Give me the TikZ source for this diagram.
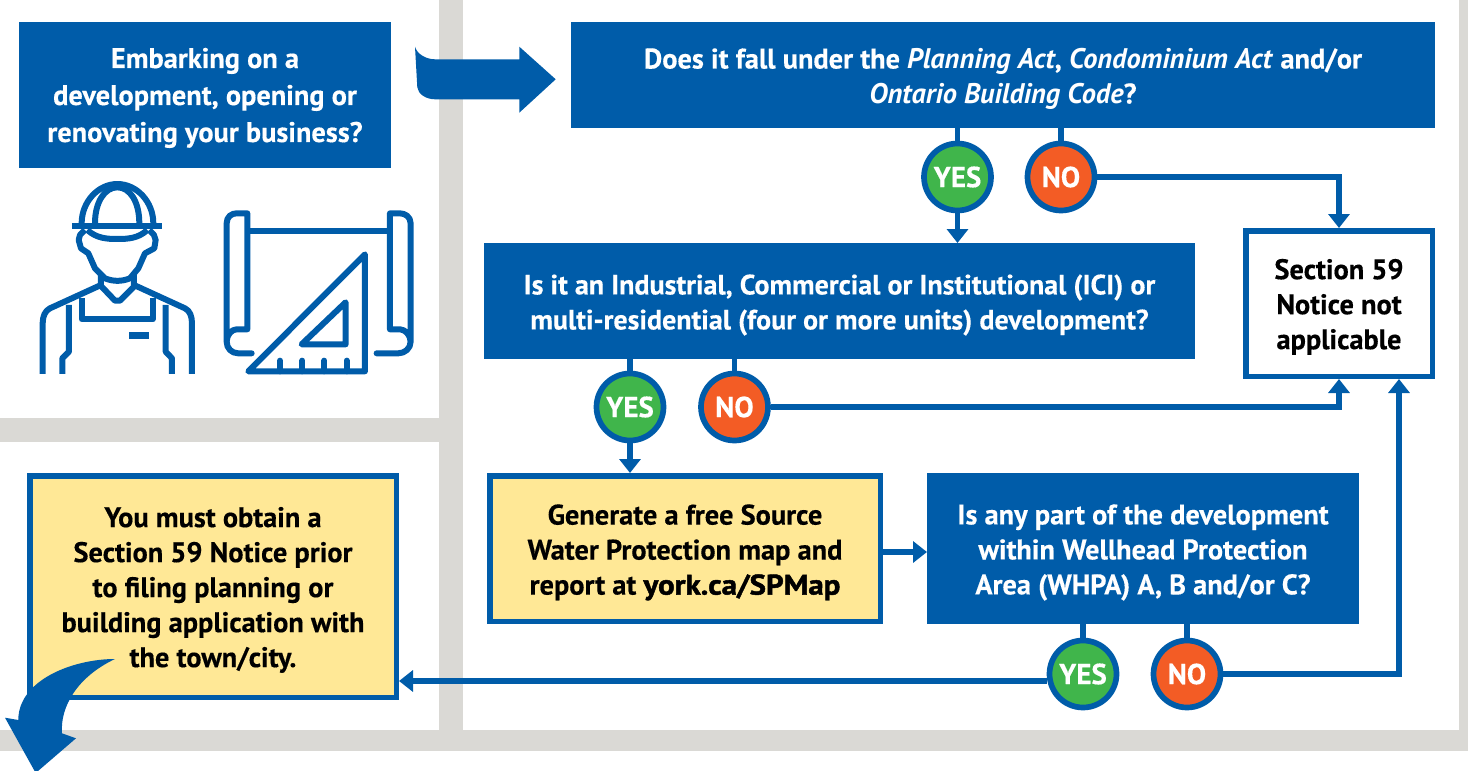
\documentclass[tikz,border=0pt]{standalone}
\usepackage{fontspec}
\setmainfont{PT Sans}[BoldFeatures={FakeBold=0.35}]
\newfontfamily\heavyfont{PT Sans}[BoldFeatures={FakeBold=1.6,FakeStretch=1.09}]
\usetikzlibrary{arrows.meta}
\definecolor{ablue}{RGB}{0,92,169}
\definecolor{agray}{RGB}{218,217,213}
\definecolor{ayellow}{RGB}{255,232,150}
\definecolor{agreen}{RGB}{64,181,75}
\definecolor{aorange}{RGB}{243,92,37}
\tikzset{
  txt/.style={align=center,inner sep=0pt,font=\fontsize{28.35}{35}\selectfont\bfseries},
  qbox/.style={txt,fill=ablue,text=white,outer sep=0pt},
  wbox/.style={txt,draw=ablue,line width=5.5pt,fill=white,text=black},
  ybox/.style={txt,draw=ablue,line width=5.5pt,fill=ayellow,text=black},
  yesc/.style={circle,draw=ablue,line width=5.7pt,fill=agreen,text=white,minimum size=67pt,inner sep=0pt,font=\fontsize{29}{30}\selectfont\bfseries},
  noc/.style={yesc,fill=aorange},
  conn/.style={draw=ablue,line width=5.7pt},
  arr/.style={conn,-{Triangle[length=14pt,width=21pt]}},
  icon/.style={draw=ablue,line width=6pt,line join=round},
  band/.style={fill=agray,draw=none},
  bigarrow/.style={fill=ablue,draw=none}
}
\begin{document}
\begin{tikzpicture}[x=1pt,y=-1pt]
\useasboundingbox (0,0) rectangle (1468,771);
% background bands
\fill[band] (439,0) rectangle (463,730);
\fill[band] (0,418) rectangle (439,442);
\fill[band] (1459,0) rectangle (1468,730);
\fill[band] (0,730) rectangle (1468,751);
% boxes
\node[qbox,minimum width=372pt,minimum height=146pt] (start) at (205,95) {\\[-9pt]Embarking on a\\[2pt]development, opening or\\[2pt]renovating your business?};
\node[qbox,minimum width=864pt,minimum height=106pt] (q1) at (1003,75) {\\[-7pt]Does it fall under the \textit{Planning Act}, \textit{Condominium Act} and/or\\\textit{Ontario Building Code}?};
\node[qbox,minimum width=711pt,minimum height=116pt,font=\fontsize{28}{35}\selectfont\bfseries] (q2) at (839.5,301) {\\[-7pt]Is it an Industrial, Commercial or Institutional (ICI) or\\multi-residential (four or more units) development?};
\node[wbox,minimum width=186.5pt,minimum height=145.5pt] (s59) at (1339,303.5) {\\[-8pt]Section 59\\Notice not\\applicable};
\node[ybox,minimum width=390.5pt,minimum height=145.5pt] (gen) at (685,548.5) {\\[-7pt]Generate a free Source\\Water Protection map and\\report at {\heavyfont\bfseries york.ca/SPMap}};
\node[qbox,minimum width=432pt,minimum height=151pt] (q3) at (1143,548.5) {\\[-7pt]Is any part of the development\\within Wellhead Protection\\Area (WHPA) A, B and/or C?};
\node[ybox,minimum width=366.5pt,minimum height=221.5pt] (must) at (213,586.5) {\\[-8pt]You must obtain a\\Section 59 Notice prior\\to filing planning or\\building application with\\the town/city.};
% circles
\node[yesc] (y1) at (957.5,177) {YES};
\node[noc] (n1) at (1061,177) {NO};
\node[yesc] (y2) at (630,407) {YES};
\node[noc] (n2) at (734.5,407) {NO};
\node[yesc] (y3) at (1083,674) {YES};
\node[noc] (n3) at (1187,674) {NO};
% connectors
\draw[conn] (q1.south -| y1) -- (y1.north);
\draw[conn] (q1.south -| n1) -- (n1.north);
\draw[arr] (y1.south) -- (y1.south |- q2.north);
\draw[arr] (n1.east) -| (s59.north);
\draw[conn] (q2.south -| y2) -- (y2.north);
\draw[conn] (q2.south -| n2) -- (n2.north);
\draw[arr] (y2.south) -- (y2.south |- gen.north);
\draw[arr] (n2.east) -| (s59.south);
\draw[arr] (gen.east |- 0,552) -- (q3.west |- 0,552);
\draw[conn] (q3.south -| y3) -- (y3.north);
\draw[conn] (q3.south -| n3) -- (n3.north);
\draw[arr] (n3.east) -| ([xshift=60pt]s59.south);
\draw[arr] (y3.west |- 0,681) -- (must.east |- 0,681);
% big arrows
\fill[bigarrow] (415,46.7) .. controls (417,54) and (426,59.3) .. (435,59.3) -- (519.3,59.3) -- (519.3,46.7) -- (555.7,79.3) -- (519.3,112.7) -- (519.3,99.3) -- (435,99.3) .. controls (426,99.3) and (418,94) .. (417.3,87.3) -- cycle;
\fill[bigarrow] (115,659) .. controls (73,659) and (18.3,680) .. (18.3,720) -- (5,717.7) -- (35.7,773) -- (76,738.3) -- (62,733.3) .. controls (60,707) and (77,677) .. (115,659) -- cycle;
% worker icon
\begin{scope}[shift={(0,170)},x=0.3333pt,y=-0.3333pt]
\draw[icon] (245,160) .. controls (245,95) and (295,42) .. (352,42) .. controls (410,42) and (460,95) .. (460,160);
\draw[icon] (285,160) .. controls (285,95) and (315,52) .. (352,52) .. controls (390,52) and (418,95) .. (418,160);
\draw[icon] (216,167) -- (487,167);
\draw[icon] (262,180) .. controls (290,205) and (320,207) .. (352,207) .. controls (385,207) and (415,205) .. (442,180);
\draw[icon] (255,180) -- (240,195) -- (236,210) -- (243,235) -- (265,250) -- (285,295) -- (315,325) .. controls (340,335) and (365,335) .. (390,325) -- (415,295) -- (435,250) -- (463,235) -- (467,210) -- (462,195) -- (448,180);
\draw[icon] (303,315) -- (303,345) -- (150,415) .. controls (135,422) and (128,440) .. (128,460) -- (128,612);
\draw[icon] (402,315) -- (402,345) -- (555,415) .. controls (570,422) and (576,440) .. (576,460) -- (576,612);
\draw[icon] (305,350) -- (345,392) -- (360,392) -- (402,350);
\draw[icon] (245,385) -- (245,448) -- (458,448) -- (458,385);
\draw[icon] (207,405) -- (207,545) -- (187,565) -- (187,612);
\draw[icon] (497,405) -- (497,545) -- (516,565) -- (516,612);
\fill[ablue] (388,487) rectangle (447,506);
% plan icon
\draw[icon,line cap=round] (755,550) -- (715,550) .. controls (695,550) and (680,535) .. (680,515) -- (680,160) .. controls (680,140) and (695,130) .. (710,130) -- (742,130) -- (742,478) -- (710,478) .. controls (695,478) and (680,495) .. (680,515);
\draw[icon,line cap=round] (1130,550) -- (1195,550) .. controls (1215,550) and (1232,535) .. (1232,515) -- (1232,160) .. controls (1232,140) and (1215,130) .. (1200,130) -- (1170,130) -- (1170,478) -- (1200,478) .. controls (1215,478) and (1232,495) .. (1232,515);
\draw[icon] (742,183) -- (1170,183);
\draw[icon] (1095,253) -- (1095,604) -- (745,604) -- cycle;
\draw[icon] (1037,397) -- (1037,523) -- (905,523) -- cycle;
\foreach \tx in {840,907,973,1040} \draw[icon,line cap=round] (\tx,604) -- (\tx,572);
\end{scope}
\end{tikzpicture}
\end{document}
